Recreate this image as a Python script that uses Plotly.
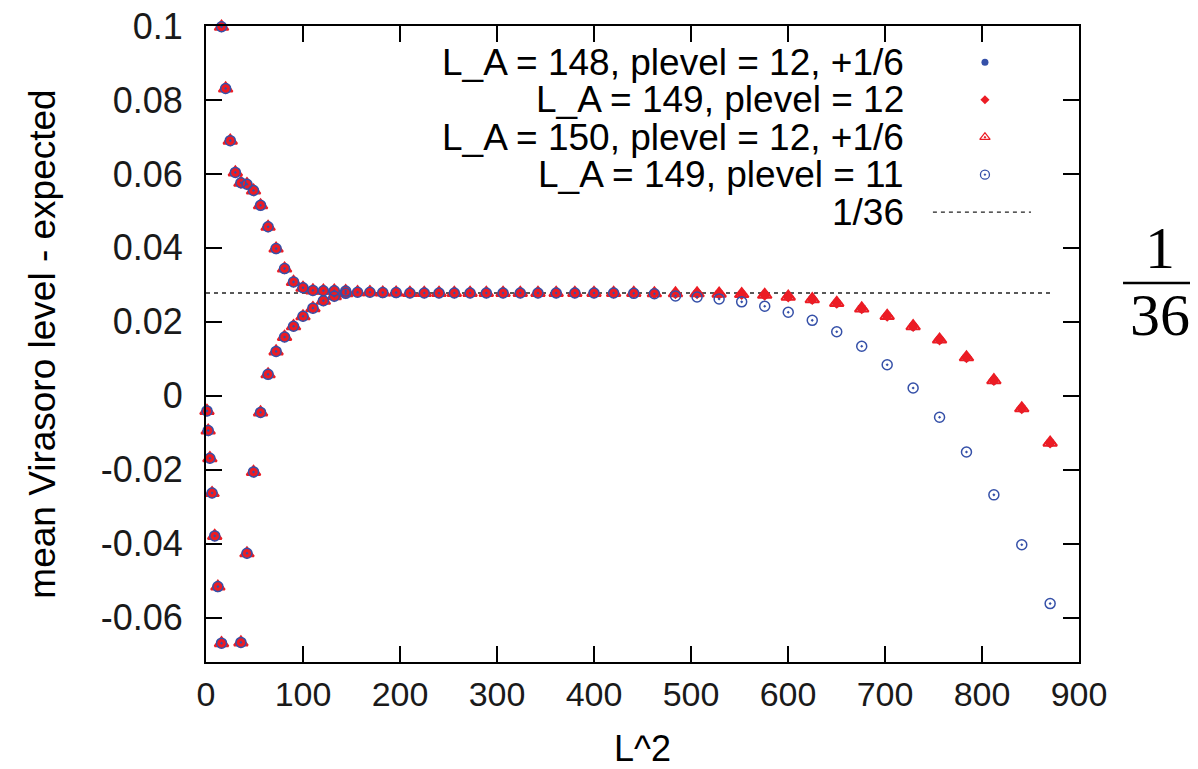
import plotly.graph_objects as go

# ---------------- data (x = L^2, y = mean Virasoro level - expected) ----------------
L2_left = [1, 2.25, 4, 6.25, 9, 12.25, 16]
y_left = [-0.0041, -0.0094, -0.0169, -0.0263, -0.0379, -0.0516, -0.0669]

L2_rise = [36, 42.25, 49, 56.25, 64, 72.25, 81, 90.25, 100, 110.25, 121, 132.25, 144]
y_rise = [-0.0667, -0.0426, -0.0206, -0.0045, 0.0058, 0.0120, 0.0159, 0.0188,
          0.0215, 0.0237, 0.0257, 0.0269, 0.0277]

L2_main = [16, 20.25, 25, 30.25, 36, 42.25, 49, 56.25, 64, 72.25, 81, 90.25, 100,
           110.25, 121, 132.25, 144, 156.25, 169, 182.25, 196, 210.25, 225, 240.25,
           256, 272.25, 289, 306.25, 324, 342.25, 361, 380.25, 400, 420.25, 441,
           462.25, 484, 506.25, 529, 552.25, 576, 600.25, 625, 650.25, 676, 702.25,
           729, 756.25, 784, 812.25, 841, 870.25]
y_main_plevel12 = [0.0998, 0.0831, 0.0690, 0.0604, 0.0576, 0.0572, 0.0555, 0.0515,
                   0.0457, 0.0398, 0.0344, 0.0308, 0.0292, 0.0285, 0.0284, 0.0284,
                   0.0283, 0.0280, 0.0280, 0.0279, 0.0279, 0.0278, 0.0278, 0.0278,
                   0.0278, 0.0278, 0.0278, 0.0278, 0.0278, 0.0278, 0.0278, 0.0278,
                   0.0278, 0.0278, 0.0278, 0.0277, 0.0277, 0.0277, 0.0276, 0.0275,
                   0.0273, 0.0268, 0.0261, 0.0251, 0.0236, 0.0216, 0.0188, 0.0152,
                   0.0104, 0.0042, -0.0034, -0.0127]
y_main_plevel11 = [0.0998, 0.0831, 0.0690, 0.0604, 0.0576, 0.0572, 0.0555, 0.0515,
                   0.0457, 0.0398, 0.0344, 0.0308, 0.0292, 0.0285, 0.0284, 0.0284,
                   0.0283, 0.0280, 0.0280, 0.0279, 0.0279, 0.0278, 0.0278, 0.0278,
                   0.0278, 0.0278, 0.0278, 0.0278, 0.0278, 0.0278, 0.0278, 0.0278,
                   0.0278, 0.0278, 0.0277, 0.0276, 0.0270, 0.0267, 0.0262, 0.0254,
                   0.0242, 0.0226, 0.0204, 0.0173, 0.0134, 0.0084, 0.0021, -0.0058,
                   -0.0152, -0.0268, -0.0403, -0.0562]

ref_value = 1 / 36
ref_x = [0, 870.25]

series_names = ["L_A = 148, plevel = 12, +1/6", "L_A = 149, plevel = 12",
                "L_A = 150, plevel = 12, +1/6", "L_A = 149, plevel = 11"]
ref_name = "1/36"

x_ticks = [0, 100, 200, 300, 400, 500, 600, 700, 800, 900]
y_ticks = [-0.06, -0.04, -0.02, 0, 0.02, 0.04, 0.06, 0.08, 0.1]
y_tick_text = ["-0.06", "-0.04", "-0.02", "0", "0.02", "0.04", "0.06", "0.08", "0.1"]

# ---------------- styling ----------------
BLUE = "#3550a8"
RED = "#ec1c24"
FONT = "Liberation Sans, Arial, Helvetica, sans-serif"
SERIF = "Liberation Serif, Times New Roman, serif"

x12 = L2_left + L2_main + L2_rise
y12 = y_left + y_main_plevel12 + y_rise
y11 = y_left + y_main_plevel11 + y_rise

styles = [
    dict(symbol="circle", size=9, color=BLUE, line=dict(width=0)),
    dict(symbol="diamond", size=9, color=RED, line=dict(width=0)),
    dict(symbol="triangle-up-open", size=12, color=RED, line=dict(width=2, color=RED)),
    dict(symbol="circle-open-dot", size=10, color=BLUE, line=dict(width=1.5, color=BLUE)),
]
legend_styles = [
    dict(symbol="circle", size=7, color=BLUE, line=dict(width=0)),
    dict(symbol="diamond", size=7, color=RED, line=dict(width=0)),
    dict(symbol="triangle-up-open-dot", size=9, color=RED, line=dict(width=1.3, color=RED)),
    dict(symbol="circle-open-dot", size=9, color=BLUE, line=dict(width=1.3, color=BLUE)),
]
ys = [y12, y12, y12, y11]

fig = go.Figure()

fig.add_trace(go.Scatter(x=ref_x, y=[ref_value, ref_value], mode="lines", name=ref_name,
                         line=dict(color="#222222", width=1.4, dash="4px,4px"),
                         showlegend=False))
for name, st, yv in zip(series_names, styles, ys):
    fig.add_trace(go.Scatter(x=x12, y=yv, mode="markers", name=name, marker=st,
                             cliponaxis=False, showlegend=False))

# ---------------- layout geometry (page body has an 8px margin) ----------------
OFF = 8
W, H = 1198 - OFF, 769 - OFF
PL_L, PL_R, PL_T, PL_B = 206.5 - OFF, 1079.0 - OFF, 25.7 - OFF, 662.3 - OFF


def px_x(px):
    return (px - OFF - PL_L) / (PL_R - PL_L)


def px_y(py):
    return (PL_B - (py - OFF)) / (PL_B - PL_T)


# ---------------- custom gnuplot-style key (text right-aligned, sample on the right) ---
key_rows = [62, 99.5, 137, 174.5, 212]
annotations = []
for i, name in enumerate(series_names + [ref_name]):
    annotations.append(dict(x=px_x(906), y=px_y(key_rows[i]), xref="paper", yref="paper",
                            text=name, showarrow=False, xanchor="right", yanchor="middle",
                            font=dict(family=FONT, size=37, color="black")))
for i, st in enumerate(legend_styles):
    fig.add_trace(go.Scatter(x=[px_x(985)], y=[px_y(key_rows[i])], mode="markers",
                             marker=st, xaxis="x2", yaxis="y2", showlegend=False,
                             hoverinfo="skip", cliponaxis=False))
fig.add_trace(go.Scatter(x=[px_x(933), px_x(1031)], y=[px_y(key_rows[4])] * 2,
                         mode="lines", line=dict(color="#222222", width=1.4, dash="4px,4px"),
                         xaxis="x2", yaxis="y2", showlegend=False, hoverinfo="skip"))

# ---------------- the 1/36 fraction on the right ----------------
annotations.append(dict(x=px_x(1160), y=px_y(248), xref="paper", yref="paper", text="1",
                        showarrow=False, xanchor="center", yanchor="middle",
                        font=dict(family=SERIF, size=60, color="black")))
annotations.append(dict(x=px_x(1160), y=px_y(315), xref="paper", yref="paper", text="36",
                        showarrow=False, xanchor="center", yanchor="middle",
                        font=dict(family=SERIF, size=60, color="black")))

shapes = [dict(type="line", xref="paper", yref="paper", x0=px_x(1123), x1=px_x(1196),
               y0=px_y(283), y1=px_y(283), line=dict(color="black", width=2.5))]

axis_common = dict(showline=True, linewidth=2, linecolor="black", mirror="ticks",
                   ticks="inside", ticklen=16, tickwidth=2, tickcolor="black",
                   showgrid=False, zeroline=False, ticklabeloverflow="allow")

fig.update_layout(
    width=W, height=H,
    margin=dict(l=round(PL_L), r=round(W - PL_R), t=round(PL_T), b=round(H - PL_B),
                autoexpand=False),
    paper_bgcolor="white", plot_bgcolor="white",
    showlegend=False,
    xaxis=dict(range=[0, 900], tickvals=x_ticks, ticklabelstandoff=1,
               tickfont=dict(family=FONT, size=34, color="#1a1a1a"),
               title=dict(text="L^2", font=dict(family=FONT, size=36, color="black"),
                          standoff=29),
               **axis_common),
    yaxis=dict(range=[-0.072, 0.1], tickvals=y_ticks, ticktext=y_tick_text,
               ticklabelstandoff=14,
               tickfont=dict(family=FONT, size=36, color="#1a1a1a"),
               title=dict(text="mean Virasoro level - expected",
                          font=dict(family=FONT, size=37, color="black"), standoff=34),
               **axis_common),
    xaxis2=dict(range=[0, 1], overlaying="x", visible=False, fixedrange=True),
    yaxis2=dict(range=[0, 1], overlaying="y", visible=False, fixedrange=True),
    annotations=annotations,
    shapes=shapes,
)

fig.write_html("out.html")
